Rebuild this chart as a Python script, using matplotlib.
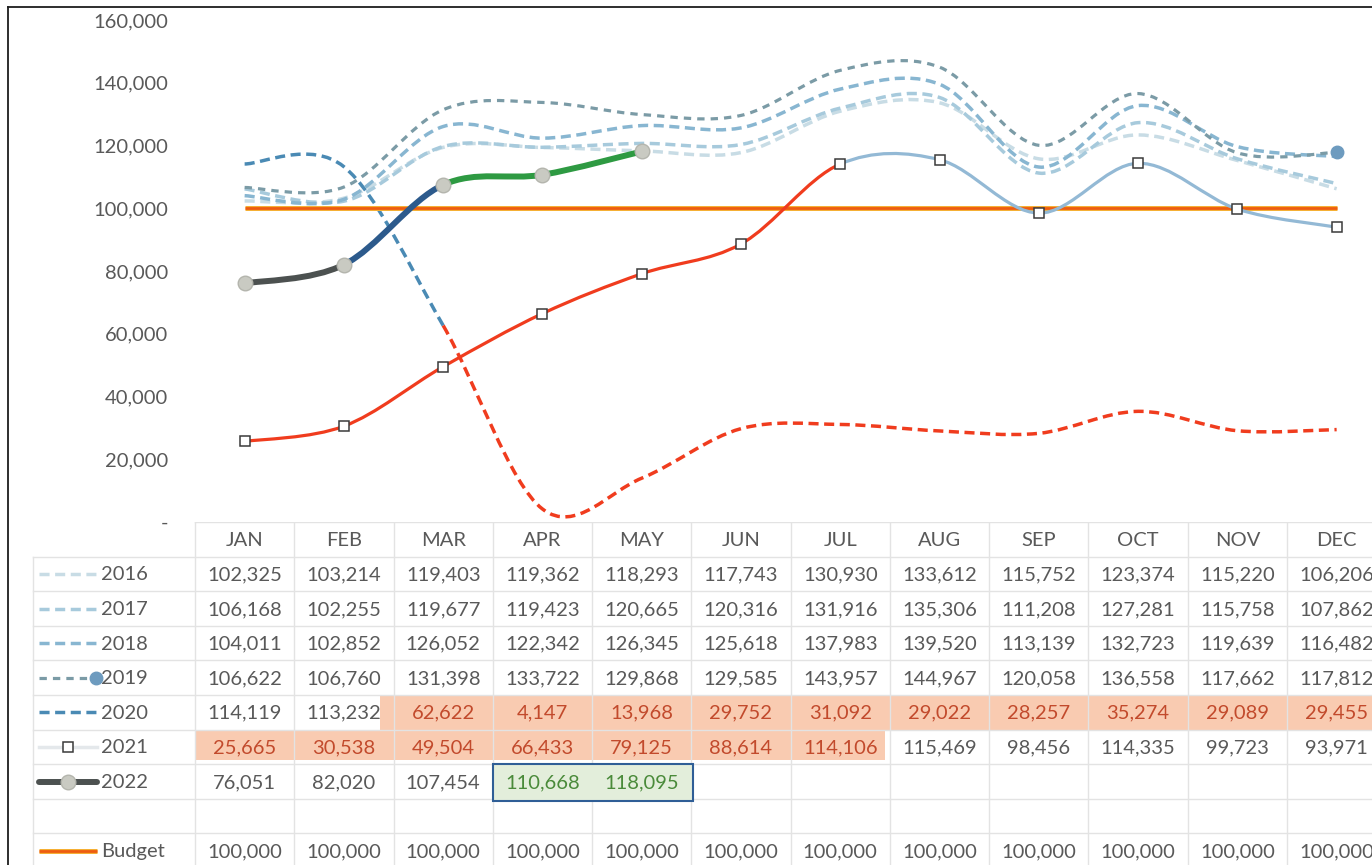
import matplotlib
matplotlib.use("Agg")
import matplotlib.pyplot as plt
from matplotlib.path import Path
from matplotlib.patches import PathPatch, Rectangle
from matplotlib.lines import Line2D
from matplotlib.ticker import FuncFormatter

# ---------------------------------------------------------------- data
months = ["JAN", "FEB", "MAR", "APR", "MAY", "JUN",
          "JUL", "AUG", "SEP", "OCT", "NOV", "DEC"]
s2016 = [102325, 103214, 119403, 119362, 118293, 117743,
         130930, 133612, 115752, 123374, 115220, 106206]
s2017 = [106168, 102255, 119677, 119423, 120665, 120316,
         131916, 135306, 111208, 127281, 115758, 107862]
s2018 = [104011, 102852, 126052, 122342, 126345, 125618,
         137983, 139520, 113139, 132723, 119639, 116482]
s2019 = [106622, 106760, 131398, 133722, 129868, 129585,
         143957, 144967, 120058, 136558, 117662, 117812]
s2020 = [114119, 113232, 62622, 4147, 13968, 29752,
         31092, 29022, 28257, 35274, 29089, 29455]
s2021 = [25665, 30538, 49504, 66433, 79125, 88614,
         114106, 115469, 98456, 114335, 99723, 93971]
s2022 = [76051, 82020, 107454, 110668, 118095]
budget = [100000] * 12

row_labels = ["2016", "2017", "2018", "2019", "2020", "2021", "2022", "", "Budget"]
row_values = [s2016, s2017, s2018, s2019, s2020, s2021, s2022, [], budget]
y_ticks = [0, 20000, 40000, 60000, 80000, 100000, 120000, 140000, 160000]

# ---------------------------------------------------------------- style
FONT = "Lato"
FS = 14.5
TXT = "#595959"
C2016, C2017, C2018, C2019 = "#c8dce5", "#a7cadc", "#88b6d1", "#7b9ba6"
C_BLUE20 = "#4a8ab4"
C_RED = "#f03c1e"
C_BLUE21 = "#93b9d5"
C22 = ["#4c5150", "#2c5a8c", "#2e9a42", "#2e9a42"]
C_BUD, C_BUD_EDGE = "#ee5c10", "#f5b035"
HL = "#f9cbb1"
HL_TXT = "#c24a2c"
GRID = "#e3e3e3"

W, H = 1372, 865
fig = plt.figure(figsize=(W / 100, H / 100), dpi=100)
fig.patch.set_facecolor("white")

col_w = (1287 - 195) / 11
tbl_left, tbl_top, row_h = 195, 522, 34.6
plot_top = 20

ax = fig.add_axes([tbl_left / W, (H - tbl_top) / H,
                   (W - tbl_left) / W, (tbl_top - plot_top) / H])
ax.set_xlim(-0.5, -0.5 + (W - tbl_left) / col_w)
ax.set_ylim(0, 160000)
ax.patch.set_alpha(0)
ax.set_zorder(3)
for sp in ax.spines.values():
    sp.set_visible(False)
ax.set_xticks([])
ax.set_yticks(y_ticks)
ax.yaxis.set_major_formatter(FuncFormatter(lambda v, p: "-" if v == 0 else f"{v:,.0f}"))
ax.tick_params(axis="y", length=0, pad=19.5, labelcolor=TXT, labelsize=FS)
for lab in ax.get_yticklabels():
    lab.set_fontfamily(FONT)


def smooth_path(ys, i0, i1):
    """Bezier path (Catmull-Rom tangents) through points i0..i1 of a series."""
    n = len(ys)
    xs = list(range(n))
    verts = [(xs[i0], ys[i0])]
    codes = [Path.MOVETO]
    for i in range(i0, i1):
        a = max(i - 1, 0)
        b = min(i + 2, n - 1)
        c1 = (xs[i] + (xs[i + 1] - xs[a]) / 6, ys[i] + (ys[i + 1] - ys[a]) / 6)
        c2 = (xs[i + 1] - (xs[b] - xs[i]) / 6, ys[i + 1] - (ys[b] - ys[i]) / 6)
        verts += [c1, c2, (xs[i + 1], ys[i + 1])]
        codes += [Path.CURVE4] * 3
    return Path(verts, codes)


def draw(ys, i0, i1, color, lw, ls="-", z=2):
    ax.add_patch(PathPatch(smooth_path(ys, i0, i1), fill=False, edgecolor=color,
                           lw=lw, linestyle=ls, capstyle="butt", joinstyle="round",
                           clip_on=False, zorder=z))


LW_D = 2.5
DASH = (0, (2.9, 1.6))
DASH19 = (0, (2.3, 1.9))

draw(s2016, 0, 11, C2016, LW_D, DASH, 2)
draw(s2017, 0, 11, C2017, LW_D, DASH, 2)
draw(s2018, 0, 11, C2018, LW_D, DASH, 2)
draw(s2019, 0, 11, C2019, 2.3, DASH19, 2)
ax.plot([11], [s2019[-1]], ls="none", marker="o", ms=9, mfc="#6d9bbf",
        mec="#6d9bbf", zorder=2, clip_on=False)

# 2020: blue until March, red afterwards
draw(s2020, 0, 2, C_BLUE20, LW_D, DASH, 3)
draw(s2020, 2, 11, C_RED, LW_D, DASH, 3)

# budget line
x12 = list(range(12))
ax.plot(x12, budget, color=C_BUD_EDGE, lw=3.6, solid_capstyle="butt", zorder=4)
ax.plot(x12, budget, color=C_BUD, lw=2.0, solid_capstyle="butt", zorder=4)

# 2021: red through July, light blue afterwards
draw(s2021, 0, 6, C_RED, 2.3, "-", 5)
draw(s2021, 6, 11, C_BLUE21, 2.3, "-", 5)
ax.plot(x12, s2021, ls="none", marker="s", ms=6.5, mfc="white", mec="#3a3a3a",
        mew=1.1, zorder=6, clip_on=False)

# 2022: one colour per segment
for i in range(len(s2022) - 1):
    draw(s2022, i, i + 1, C22[i], 4.3, "-", 7)
ax.plot(range(len(s2022)), s2022, ls="none", marker="o", ms=10.5, mfc="#c9cac2",
        mec="#b4b5ad", mew=1, zorder=8, clip_on=False)

# ---------------------------------------------------------------- data table
tax = fig.add_axes([0, 0, 1, (H - tbl_top) / H])
tax.set_xlim(0, W)
tax.set_ylim(H, tbl_top)
tax.axis("off")
tax.set_zorder(1)


def row_top(k):
    return tbl_top + k * row_h


def col_left(j):
    return tbl_left + j * col_w


# highlighted cells
tax.add_patch(Rectangle((col_left(2) - 14, row_top(5) + 1), W, row_h - 1,
                        facecolor=HL, edgecolor="none", zorder=1))
tax.add_patch(Rectangle((col_left(0), row_top(6)), col_left(7) - col_left(0) - 5, row_h - 4,
                        facecolor=HL, edgecolor="none", zorder=1))
tax.add_patch(Rectangle((col_left(3), row_top(7)), 2 * col_w + 2, row_h + 2,
                        facecolor="#e3eedb", edgecolor="#2f5e96", lw=1.5, zorder=3))

# grid
tax.plot([col_left(0), W], [row_top(0)] * 2, color=GRID, lw=1, zorder=2)
for k in range(1, 10):
    tax.plot([33, W], [row_top(k)] * 2, color=GRID, lw=1, zorder=2)
for j in range(13):
    tax.plot([col_left(j)] * 2, [row_top(0), H], color=GRID, lw=1, zorder=2)
tax.plot([33, 33], [row_top(1), H], color=GRID, lw=1, zorder=2)

# header
for j, m in enumerate(months):
    tax.text(col_left(j) + col_w / 2, row_top(0) + row_h / 2 + 1, m, ha="center",
             va="center", fontsize=FS, color=TXT, family=FONT, zorder=4)

# values
for k, (lab, vals) in enumerate(zip(row_labels, row_values), start=1):
    yc = row_top(k) + row_h / 2 + 1
    tax.text(101, yc, lab, ha="left", va="center", fontsize=FS, color=TXT,
             family=FONT, zorder=4)
    for j, v in enumerate(vals):
        color = TXT
        if lab == "2020" and j >= 2:
            color = HL_TXT
        if lab == "2021" and j <= 6:
            color = HL_TXT
        if lab == "2022" and j in (3, 4):
            color = "#4a8a3a"
        tax.text(col_left(j) + col_w / 2, yc, f"{v:,}", ha="center", va="center",
                 fontsize=FS, color=color, family=FONT, zorder=4)


# legend swatches
def swatch_y(k):
    return row_top(k) + row_h / 2


for k, c, ls in [(1, C2016, DASH), (2, C2017, DASH), (3, C2018, DASH), (5, C_BLUE20, DASH)]:
    tax.add_line(Line2D([39, 96], [swatch_y(k)] * 2, color=c, lw=LW_D, ls=ls,
                        dash_capstyle="butt", zorder=4))
tax.add_line(Line2D([39, 92], [swatch_y(4)] * 2, color=C2019, lw=2.3, ls=DASH19,
                    dash_capstyle="butt", zorder=4))
tax.plot([96], [swatch_y(4)], marker="o", ms=9, mfc="#6d9bbf", mec="#6d9bbf", zorder=5)
tax.add_line(Line2D([39, 97], [swatch_y(6)] * 2, color="#e4e8eb", lw=2.5, zorder=4))
tax.plot([68], [swatch_y(6)], marker="s", ms=6.5, mfc="white", mec="#3a3a3a",
         mew=1.1, zorder=5)
tax.add_line(Line2D([39, 97], [swatch_y(7)] * 2, color=C22[0], lw=4.3,
                    solid_capstyle="round", zorder=4))
tax.plot([68], [swatch_y(7)], marker="o", ms=10.5, mfc="#c9cac2", mec="#b4b5ad",
         mew=1, zorder=5)
tax.add_line(Line2D([39, 97], [swatch_y(9)] * 2, color=C_BUD_EDGE, lw=3.6,
                    solid_capstyle="butt", zorder=4))
tax.add_line(Line2D([39, 97], [swatch_y(9)] * 2, color=C_BUD, lw=2.0,
                    solid_capstyle="butt", zorder=4))

# outer frame
fig.add_artist(Line2D([8 / W, 8 / W], [1 - 7 / H, 0], color="#1e1e1e", lw=1.3))
fig.add_artist(Line2D([8 / W, 1], [1 - 7 / H, 1 - 7 / H], color="#1e1e1e", lw=1.3))

fig.savefig("out.png", dpi=100, facecolor="white")
